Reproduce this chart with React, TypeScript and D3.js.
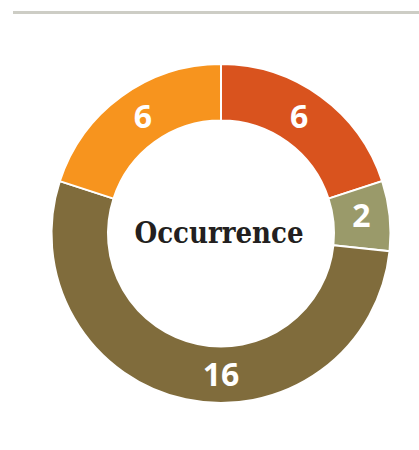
import React, { useEffect, useRef } from 'react';
import * as d3 from 'd3';

// slices, clockwise from 12 o'clock
const categories = ['A', 'B', 'C', 'D'];
const values = [6, 2, 16, 6];
const colors = ['#D9531E', '#9A9A6A', '#806C3C', '#F7941E'];
const centerLabel = 'Occurrence';

const App = () => {
  const svgRef = useRef<SVGSVGElement>(null);

  useEffect(() => {
    const width = 419;
    const height = 450;
    const cx = 221;
    const cy = 233.5;
    const outerR = 169.5;
    const innerR = 113;

    const svg = d3.select(svgRef.current).attr('width', width).attr('height', height);
    svg.selectAll('*').remove();

    // grey rule at the top
    svg
      .append('rect')
      .attr('x', 13)
      .attr('y', 11)
      .attr('width', width - 13)
      .attr('height', 3)
      .attr('fill', '#CDCDC5');

    const g = svg.append('g').attr('transform', `translate(${cx},${cy})`);

    const pie = d3
      .pie<number>()
      .sort(null)
      .value((d) => d);
    const arcs = pie(values);

    const arc = d3.arc<d3.PieArcDatum<number>>().innerRadius(innerR).outerRadius(outerR);
    const midR = (innerR + outerR) / 2;

    g.selectAll('.slice')
      .data(arcs)
      .enter()
      .append('path')
      .attr('class', 'slice')
      .attr('d', arc)
      .attr('fill', (d, i) => colors[i])
      .attr('stroke', '#fff')
      .attr('stroke-width', 2);

    const total = d3.sum(values);
    g.selectAll('.lbl')
      .data(arcs)
      .enter()
      .append('text')
      .attr('class', 'lbl')
      .attr('transform', (d) => {
        // the big slice gets its label at the bottom of the ring
        if (d.value > total / 2) return `translate(0,${midR})`;
        const [x, y] = arc.centroid(d);
        // pull the top labels a little toward the middle
        const nx = y < -60 ? x * 0.94 : x;
        return `translate(${nx},${y - 3})`;
      })
      .attr('text-anchor', 'middle')
      .attr('dy', '0.36em')
      .attr('fill', '#fff')
      .style('font-family', '"Open Sans", sans-serif')
      .style('font-weight', 700)
      .style('font-size', '32px')
      .text((d) => d.value);

    g.append('text')
      .attr('x', -2)
      .attr('y', 9)
      .attr('text-anchor', 'middle')
      .attr('fill', '#231F20')
      .style('font-family', '"DejaVu Serif Condensed", "DejaVu Serif", serif')
      .style('font-weight', 700)
      .style('font-size', '29px')
      .text(centerLabel);
  }, []);

  return (
    <div style={{ position: 'absolute', left: 0, top: 0 }}>
      <svg ref={svgRef} data-cats={categories.join(',')}></svg>
    </div>
  );
};

export default App;
